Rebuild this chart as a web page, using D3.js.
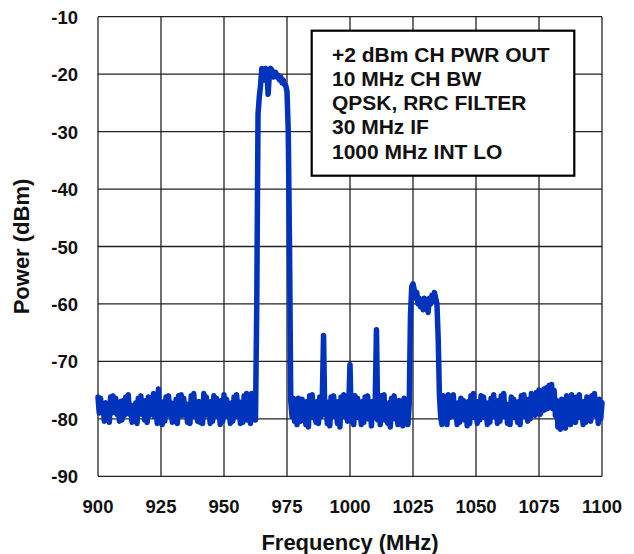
<!DOCTYPE html>
<html>
<head>
<meta charset="utf-8">
<script src="https://cdn.jsdelivr.net/npm/d3@7.9.0/dist/d3.min.js"></script>
<style>
  body { margin: 0; background: #fff; }
  svg { display: block; }
  text { font-family: "Liberation Sans", Arial, sans-serif; font-weight: bold; fill: #111; }
</style>
</head>
<body>
<svg id="chart" width="634" height="554"></svg>
<script>
// sweep grid: 900 MHz to 1100 MHz in 0.5 MHz steps
const freqStart = 900;
const freqStep = 0.5;

// power readings (dBm), one per sweep point, 10 MHz per row
const power = [
  -76.2,-79,-76.4,-78.6,-77.4,-80.4,-77.2,-80.2,-77.6,-80.6,-76.2,-79,-76,-78.8,-76.4,-79.2,-77.4,-80.4,-77,-80.2,
  -76.8,-79.4,-76.2,-78.8,-75.8,-79.2,-77.6,-80.6,-77.8,-80.4,-77.2,-80.8,-76.4,-79,-76,-79.2,-77.2,-80.2,-76.8,-80.6,
  -76.2,-79.4,-76.6,-78.8,-75.6,-79.6,-77.2,-80.8,-74.8,-80.4,-77,-81,-77.4,-80.4,-76.2,-79,-76,-79.4,-77.2,-80.6,
  -77.6,-80.4,-76.6,-80.8,-76,-78.8,-75.8,-79.4,-76.4,-79,-77.4,-80.6,-77.8,-80.8,-76,-79.2,-75.6,-79.6,-77.2,-80.4,
  -77,-80.6,-77.6,-80.8,-75.6,-79.4,-76.2,-78.8,-77.4,-80.8,-77,-80.4,-76,-79.2,-76.4,-79.6,-77.6,-81,-76.8,-80.4,
  -75.8,-79.6,-76.6,-79,-77.4,-80.8,-77.2,-80.4,-76.2,-79.6,-75.8,-79.2,-77,-80.8,-77.6,-80.6,-76,-79.8,-75.6,-80.2,
  -77.2,-80.8,-75.6,-79.6,-76.2,-80.2,-60,-27,-24,-22,-19,-19.5,-21,-19,-19.5,-23.5,-20,-19,-19.3,-20.5,
  -20,-19.7,-20.5,-20.2,-21,-20.5,-21.5,-21,-21.8,-22,-23,-30,-50,-77,-79.6,-76.4,-80.4,-76.8,-81,-76.4,
  -77.4,-80.4,-76.6,-79.6,-77.2,-81,-77,-81.4,-76,-79.4,-75.8,-79.8,-77.4,-80.6,-77,-80.8,-76.2,-79.6,-76.6,-65.5,
  -79.2,-77,-80.8,-77.4,-81.2,-76.2,-79.4,-76,-79.6,-77.4,-80.8,-77,-81.4,-76.2,-79.2,-75.8,-79.6,-77.2,-80.4,-77.6,
  -70.6,-80.4,-76.4,-81,-76,-79.2,-76.4,-79.8,-77.6,-81,-77,-80.6,-76.2,-79.2,-76,-80,-77.4,-81.2,-77,-79.8,
  -77,-64.5,-80.2,-76.6,-81,-76,-79.4,-75.8,-80.2,-77.4,-80.8,-77.2,-81.4,-76.4,-79.6,-76,-80,-77.4,-81,-76.8,
  -80.6,-77.2,-81.2,-76.4,-79.8,-77,-81,-77.4,-62,-57,-56.5,-57.5,-59,-58,-60,-59,-60.5,-59.5,-61,-59,
  -60.5,-59.5,-61.5,-59,-60,-58.5,-59.5,-58,-59,-60,-66,-76,-79.6,-81,-76,-80.2,-77.4,-81,-75.8,-79.8,
  -76.2,-79.4,-75.8,-79.6,-77.6,-81,-77.2,-80.6,-76.4,-79.8,-76.8,-80.2,-77.6,-81.2,-77,-80.8,-76,-79.4,-75.6,-79.8,
  -77.4,-80.8,-77,-80.2,-76,-79.2,-76.2,-79.8,-77.6,-81,-77.2,-80.6,-76.4,-79.4,-75.8,-79.6,-77.2,-80.8,-76.8,-80.4,
  -76,-79.6,-75.6,-79.2,-77.4,-80.8,-77.8,-81,-76.2,-79.4,-76.6,-79.8,-77.4,-80.6,-77,-81,-76,-79.2,-75.8,-79.6,
  -77,-80.4,-76.6,-80,-75.6,-79,-76,-79.4,-75.4,-78.8,-75,-79.2,-75.6,-78.6,-74.8,-78.4,-74.6,-78.2,-74.2,-77.8,
  -74,-78.2,-75,-79.4,-76.8,-81.4,-77.4,-81.8,-76.6,-81.4,-77.6,-81.6,-76,-80.2,-77.2,-81,-75.8,-79.8,-76.4,-80.6,
  -76.2,-79.6,-75.8,-79.8,-77.4,-81,-77,-80.6,-76.2,-79.4,-76.8,-80.4,-76,-79.2,-75.6,-79.4,-77.2,-80.8,-76.6,-80,-77.2
];

const xTicks = [900, 925, 950, 975, 1000, 1025, 1050, 1075, 1100];
const yTicks = [-10, -20, -30, -40, -50, -60, -70, -80, -90];

const legendLines = [
  '+2 dBm CH PWR OUT',
  '10 MHz CH BW',
  'QPSK, RRC FILTER',
  '30 MHz IF',
  '1000 MHz INT LO'
];

const svg = d3.select('#chart');

const plot = { left: 98, right: 602, top: 16.7, bottom: 476.3 };

const x = d3.scaleLinear().domain([900, 1100]).range([plot.left, plot.right]);
const y = d3.scaleLinear().domain([-90, -10]).range([plot.bottom, plot.top]);

// grid lines
svg.append('g')
  .selectAll('line')
  .data(xTicks)
  .join('line')
  .attr('x1', d => x(d)).attr('x2', d => x(d))
  .attr('y1', plot.top).attr('y2', plot.bottom)
  .attr('stroke', '#222').attr('stroke-width', 1.3);

svg.append('g')
  .selectAll('line')
  .data(yTicks)
  .join('line')
  .attr('x1', plot.left).attr('x2', plot.right)
  .attr('y1', d => y(d)).attr('y2', d => y(d))
  .attr('stroke', '#222').attr('stroke-width', 1.3);

// tick labels
svg.append('g')
  .selectAll('text')
  .data(yTicks)
  .join('text')
  .attr('x', 78)
  .attr('y', d => y(d) + 7)
  .attr('text-anchor', 'end')
  .style('font-size', '18.5px')
  .text(d => d);

svg.append('g')
  .selectAll('text')
  .data(xTicks)
  .join('text')
  .attr('x', d => x(d))
  .attr('y', 512.5)
  .attr('text-anchor', 'middle')
  .style('font-size', '18.5px')
  .text(d => d);

// axis titles
svg.append('text')
  .attr('x', (plot.left + plot.right) / 2)
  .attr('y', 550)
  .attr('text-anchor', 'middle')
  .style('font-size', '22px')
  .text('Frequency (MHz)');

svg.append('text')
  .attr('transform', 'translate(29,' + (plot.top + plot.bottom) / 2 + ') rotate(-90)')
  .attr('text-anchor', 'middle')
  .style('font-size', '22px')
  .text('Power (dBm)');

// spectrum trace
const line = d3.line()
  .x((d, i) => x(freqStart + i * freqStep))
  .y(d => y(d));

svg.append('path')
  .datum(power)
  .attr('d', line)
  .attr('fill', 'none')
  .attr('stroke', '#0033bb')
  .attr('stroke-width', 5.5)
  .attr('stroke-linejoin', 'round')
  .attr('stroke-linecap', 'round');

// legend box
const legend = svg.append('g');
legend.append('rect')
  .attr('x', 311.7).attr('y', 30.7)
  .attr('width', 262.6).attr('height', 145)
  .attr('fill', '#fff')
  .attr('stroke', '#000')
  .attr('stroke-width', 2.2);

legend.selectAll('text')
  .data(legendLines)
  .join('text')
  .attr('x', 332)
  .attr('y', (d, i) => 61.7 + i * 24.2)
  .style('font-size', '21px')
  .text(d => d);
</script>
</body>
</html>
